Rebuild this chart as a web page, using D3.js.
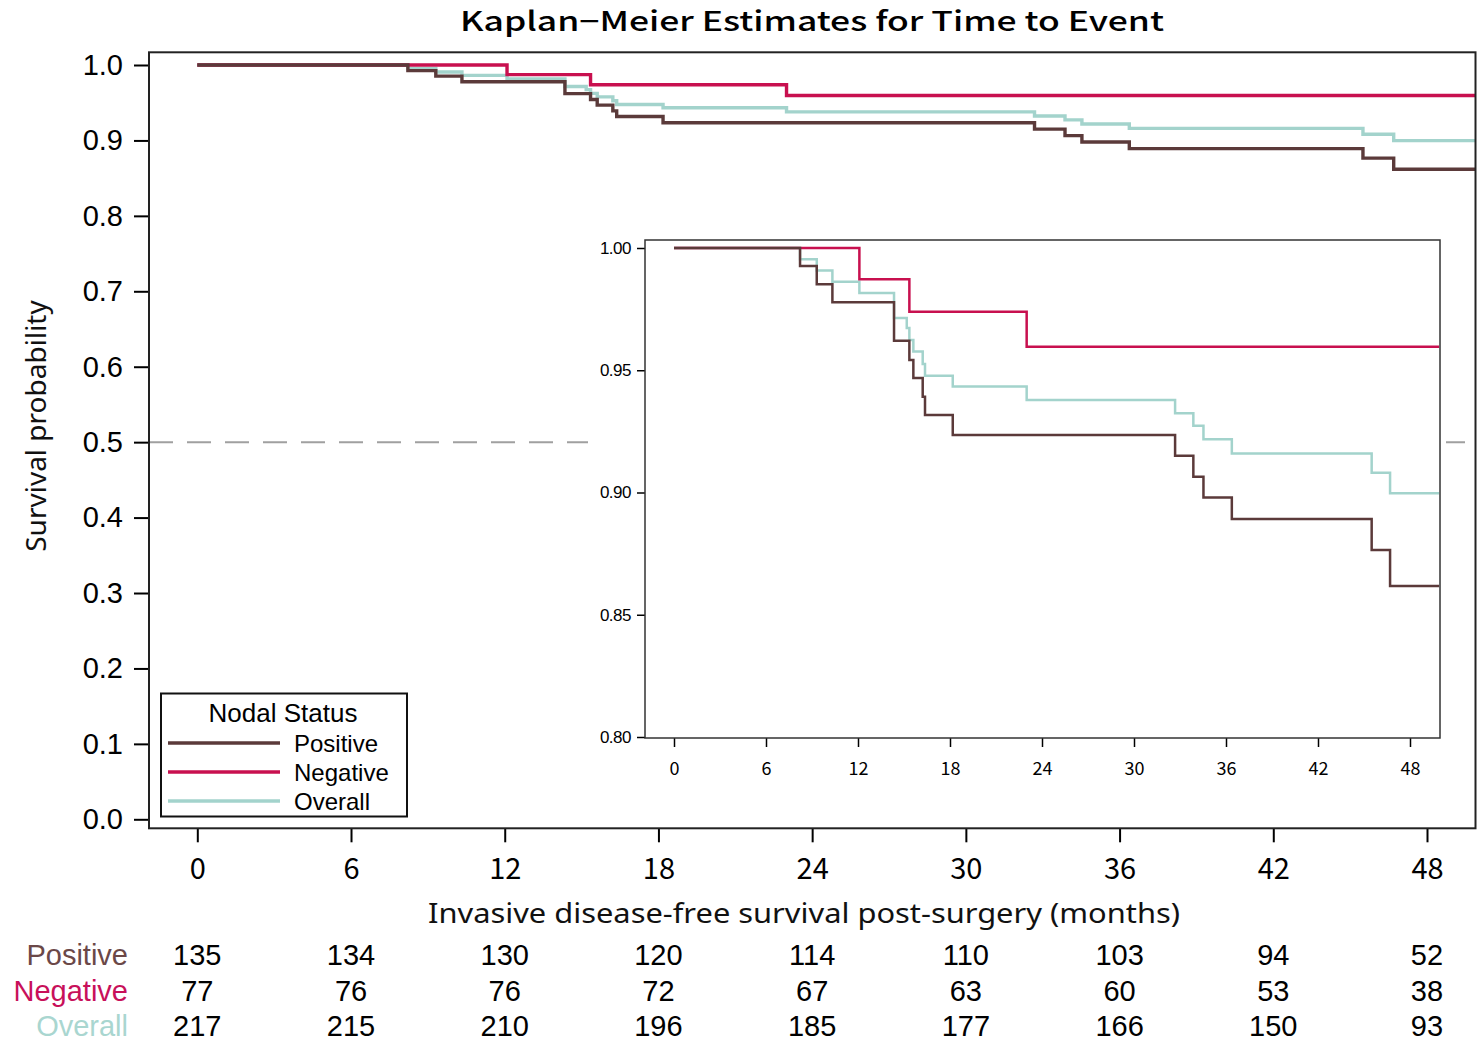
<!DOCTYPE html>
<html><head><meta charset="utf-8">
<script src="https://cdn.jsdelivr.net/npm/d3@7"></script>
<style>body{margin:0;background:#fff}svg{display:block}</style>
</head><body>
<svg id="c" width="1481" height="1044"></svg>
<script>
// ---- data ----
const seriesNames = ["Positive", "Negative", "Overall"];
const seriesColors = ["#5b3a3a", "#c8104f", "#a3d3cc"];
const labelColors = ["#6b4848", "#c8105a", "#a9d6d0"];
const positiveTimes = [0, 8.22, 9.31, 10.33, 14.35, 15.35, 15.61, 16.22, 16.37, 18.18, 32.68, 33.87, 34.53, 36.38, 45.5, 46.7, 49.9];
const positiveSurv  = [1, 0.9926, 0.9852, 0.9778, 0.9621, 0.9542, 0.9468, 0.9392, 0.9317, 0.9235, 0.915, 0.9064, 0.898, 0.8892, 0.8765, 0.8618, 0.8618];
const negativeTimes = [0, 12.09, 15.35, 23.0, 49.9];
const negativeSurv  = [1, 0.9872, 0.9739, 0.9596, 0.9596];
const overallTimes  = [0, 8.22, 9.31, 10.33, 12.09, 14.35, 15.18, 15.35, 15.61, 16.22, 16.37, 18.18, 23.0, 32.68, 33.87, 34.53, 36.38, 45.5, 46.7, 49.9];
const overallSurv   = [1, 0.9954, 0.9908, 0.9862, 0.9816, 0.9714, 0.9673, 0.9624, 0.9577, 0.9526, 0.9477, 0.9434, 0.9378, 0.9324, 0.9273, 0.9218, 0.916, 0.9081, 0.8997, 0.8997];
const xTicks = [0, 6, 12, 18, 24, 30, 36, 42, 48];
const yTicksMain = [0, 0.1, 0.2, 0.3, 0.4, 0.5, 0.6, 0.7, 0.8, 0.9, 1.0];
const yTicksInset = [0.80, 0.85, 0.90, 0.95, 1.00];
const riskTimes = [0, 6, 12, 18, 24, 30, 36, 42, 48];
const positiveRisk = [135, 134, 130, 120, 114, 110, 103, 94, 52];
const negativeRisk = [77, 76, 76, 72, 67, 63, 60, 53, 38];
const overallRisk  = [217, 215, 210, 196, 185, 177, 166, 150, 93];
const titleText = "Kaplan\u2212Meier Estimates for Time to Event";
const xLabel = "Invasive disease-free survival post-surgery (months)";
const yLabel = "Survival probability";
const legendTitle = "Nodal Status";

const series = [
  {name: seriesNames[0], pts: positiveTimes.map((t,i)=>[t, positiveSurv[i]])},
  {name: seriesNames[1], pts: negativeTimes.map((t,i)=>[t, negativeSurv[i]])},
  {name: seriesNames[2], pts: overallTimes.map((t,i)=>[t, overallSurv[i]])}
];
const risks = [positiveRisk, negativeRisk, overallRisk];
const drawOrder = [2, 1, 0];

const svg = d3.select("#c");
const gothic = "'Noto Sans CJK JP', sans-serif";
const arial = "'Liberation Sans', Arial, sans-serif";

// ---- main plot ----
const F = {l:149, r:1475.5, t:52.3, b:828.3};
const x = d3.scaleLinear().domain([0,48]).range([197.3, 1427]);
const y = d3.scaleLinear().domain([0,1]).range([819.3, 65]);

svg.append("clipPath").attr("id","mclip").append("rect")
  .attr("x",F.l).attr("y",F.t).attr("width",F.r-F.l).attr("height",F.b-F.t);

svg.append("line").attr("x1",F.l).attr("x2",F.r).attr("y1",y(0.5)).attr("y2",y(0.5))
  .attr("stroke","#a0a0a0").attr("stroke-width",2).attr("stroke-dasharray","24,14");

const lineMain = d3.line().curve(d3.curveStepAfter).x(d=>x(d[0])).y(d=>y(d[1]));
const gm = svg.append("g").attr("clip-path","url(#mclip)");
drawOrder.forEach(i=>{
  gm.append("path").datum(series[i].pts).attr("d",lineMain).attr("fill","none")
    .attr("stroke",seriesColors[i]).attr("stroke-width",3.4);
});

const ax = svg.append("g").attr("transform",`translate(0,${F.b})`)
  .call(d3.axisBottom(x).tickValues(xTicks).tickSize(14).tickPadding(14).tickFormat(d3.format("d")));
ax.select(".domain").remove();
ax.selectAll("line").attr("stroke","#000").attr("stroke-width",2);
ax.selectAll("text").attr("font-family",gothic).attr("font-size",29).attr("fill","#000").attr("dy","0.78em");

const ay = svg.append("g").attr("transform",`translate(${F.l},0)`)
  .call(d3.axisLeft(y).tickValues(yTicksMain).tickSize(15).tickPadding(11).tickFormat(d3.format(".1f")));
ay.select(".domain").remove();
ay.selectAll("line").attr("stroke","#000").attr("stroke-width",2);
ay.selectAll("text").attr("font-family",arial).attr("font-size",29).attr("fill","#000");

svg.append("rect").attr("x",F.l).attr("y",F.t).attr("width",F.r-F.l).attr("height",F.b-F.t)
  .attr("fill","none").attr("stroke","#222").attr("stroke-width",2);

// ---- inset ----
const I = {l:645, r:1440, t:240, b:738};
const xi = d3.scaleLinear().domain([0,48]).range([674, 1410]);
const yi = d3.scaleLinear().domain([0.8,1]).range([737, 248]);
svg.append("rect").attr("x",588).attr("y",228).attr("width",858).attr("height",562).attr("fill","#fff");
svg.append("clipPath").attr("id","iclip").append("rect")
  .attr("x",I.l).attr("y",I.t).attr("width",I.r-I.l).attr("height",I.b-I.t);
const lineIn = d3.line().curve(d3.curveStepAfter).x(d=>xi(d[0])).y(d=>yi(d[1]));
const gi = svg.append("g").attr("clip-path","url(#iclip)");
drawOrder.forEach(i=>{
  gi.append("path").datum(series[i].pts).attr("d",lineIn).attr("fill","none")
    .attr("stroke",seriesColors[i]).attr("stroke-width",2.5);
});
const axi = svg.append("g").attr("transform",`translate(0,${I.b})`)
  .call(d3.axisBottom(xi).tickValues(xTicks).tickSize(9).tickPadding(15).tickFormat(d3.format("d")));
axi.select(".domain").remove();
axi.selectAll("line").attr("stroke","#000").attr("stroke-width",1.5);
axi.selectAll("text").attr("font-family",gothic).attr("font-size",18).attr("fill","#000");
const ayi = svg.append("g").attr("transform",`translate(${I.l},0)`)
  .call(d3.axisLeft(yi).tickValues(yTicksInset).tickSize(8).tickPadding(6).tickFormat(d3.format(".2f")));
ayi.select(".domain").remove();
ayi.selectAll("line").attr("stroke","#000").attr("stroke-width",1.5);
ayi.selectAll("text").attr("font-family",arial).attr("font-size",17).attr("fill","#000").attr("letter-spacing","-0.5");
svg.append("rect").attr("x",I.l).attr("y",I.t).attr("width",I.r-I.l).attr("height",I.b-I.t)
  .attr("fill","none").attr("stroke","#333").attr("stroke-width",1.5);

// ---- legend ----
const lg = svg.append("g");
lg.append("rect").attr("x",161).attr("y",693.5).attr("width",246).attr("height",123)
  .attr("fill","#fff").attr("stroke","#111").attr("stroke-width",2);
lg.append("text").attr("x",283).attr("y",722).attr("text-anchor","middle")
  .attr("font-family",arial).attr("font-size",26).attr("fill","#000").text(legendTitle);
seriesNames.forEach((n,i)=>{
  const yy = 743 + i*29;
  lg.append("line").attr("x1",168).attr("x2",280).attr("y1",yy).attr("y2",yy)
    .attr("stroke",seriesColors[i]).attr("stroke-width",3.5);
  lg.append("text").attr("x",294).attr("y",yy+8.5).attr("font-family",arial)
    .attr("font-size",24).attr("fill","#000").text(n);
});

// ---- titles ----
svg.append("text").attr("x",812).attr("y",31).attr("text-anchor","middle")
  .attr("font-family",gothic).attr("font-weight",500).attr("font-size",26.5)
  .attr("textLength",704).attr("lengthAdjust","spacingAndGlyphs").attr("fill","#000").text(titleText);
svg.append("text").attr("x",804).attr("y",923).attr("text-anchor","middle")
  .attr("font-family","'Noto Sans', 'Open Sans', sans-serif").attr("font-size",28)
  .attr("textLength",752).attr("lengthAdjust","spacingAndGlyphs").attr("fill","#111").text(xLabel);
svg.append("text").attr("transform","translate(46,426) rotate(-90)").attr("text-anchor","middle")
  .attr("font-family","'Noto Sans', 'Open Sans', sans-serif").attr("font-size",28)
  .attr("fill","#111").text(yLabel);

// ---- number at risk ----
const rowY = [965, 1001, 1036];
seriesNames.forEach((n,i)=>{
  svg.append("text").attr("x",128).attr("y",rowY[i]).attr("text-anchor","end")
    .attr("font-family",arial).attr("font-size",29).attr("fill",labelColors[i]).text(n);
  svg.append("g").selectAll("text").data(riskTimes).join("text")
    .attr("x",d=>x(d)).attr("y",rowY[i]).attr("text-anchor","middle")
    .attr("font-family",arial).attr("font-size",29).attr("fill","#000")
    .text((d,j)=>risks[i][j]);
});
</script>
</body></html>
